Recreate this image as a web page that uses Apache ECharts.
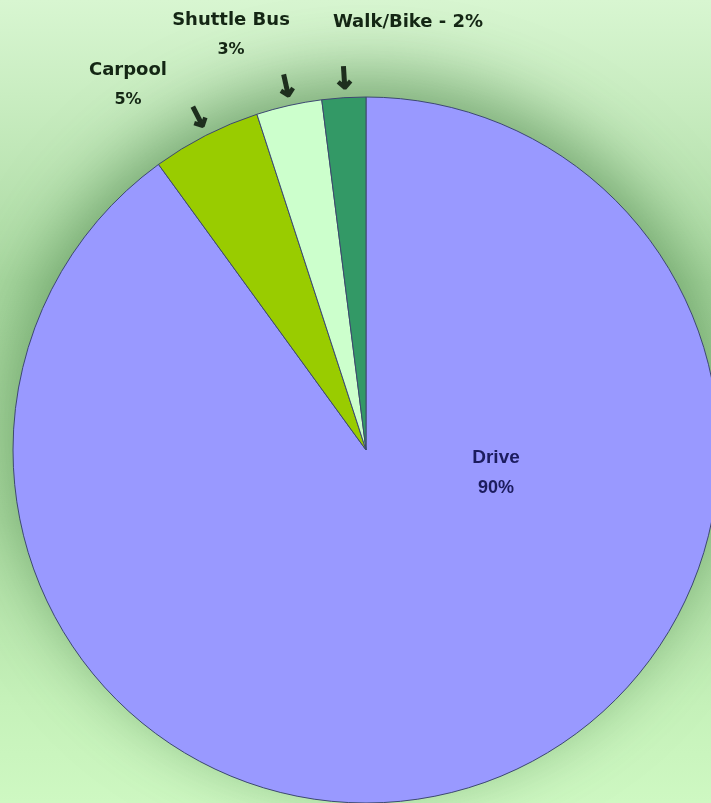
<!DOCTYPE html>
<html>
<head>
<meta charset="utf-8">
<script src="https://cdn.jsdelivr.net/npm/echarts@6/dist/echarts.min.js"></script>
<style>
  html, body { margin: 0; padding: 0; }
  #main { width: 711px; height: 803px; }
</style>
</head>
<body>
<div id="main"></div>
<script>
var chartDom = document.getElementById('main');
var myChart = echarts.init(chartDom);

// slices, clockwise from 12 o'clock
var categories = ['Drive', 'Carpool', 'Shuttle Bus', 'Walk/Bike'];
var shares = [90, 5, 3, 2];
var sliceColors = ['#9999ff', '#99cc00', '#ccffcc', '#339966'];

var CENTER = [366, 450];
var RADIUS = 353;

// where each slice's text sits (text only)
var labelSpots = [
  { x: 496, y: 473 },
  { x: 128, y: 85 },
  { x: 231, y: 35 },
  { x: 408, y: 22 }
];

var total = 0;
for (var i = 0; i < shares.length; i++) total += shares[i];

var pieData = categories.map(function (name, i) {
  return {
    name: name,
    value: shares[i],
    itemStyle: { color: sliceColors[i] }
  };
});

var arrowData = categories.map(function (name, i) {
  return {
    name: name,
    value: shares[i],
    label: { show: shares[i] < 10 }
  };
});

var option = {
  backgroundColor: {
    type: 'linear', x: 0, y: 0, x2: 0, y2: 1,
    colorStops: [
      { offset: 0, color: '#d8f6d1' },
      { offset: 0.12, color: '#c9edc1' },
      { offset: 0.35, color: '#abdaa2' },
      { offset: 0.65, color: '#aedda4' },
      { offset: 0.88, color: '#c6f2ba' },
      { offset: 1, color: '#cef8c2' }
    ]
  },
  series: [
    {
      // soft glow behind the pie
      type: 'pie',
      silent: true,
      z: 1,
      center: CENTER,
      radius: RADIUS,
      label: { show: false },
      labelLine: { show: false },
      itemStyle: {
        color: '#9999ff',
        shadowBlur: 70,
        shadowOffsetY: -20,
        shadowColor: 'rgba(50, 110, 50, 0.55)'
      },
      data: [{ name: 'all', value: total }]
    },
    {
      type: 'pie',
      z: 2,
      center: CENTER,
      radius: RADIUS,
      startAngle: 90,
      clockwise: true,
      animation: false,
      itemStyle: {
        borderColor: '#3d4a6e',
        borderWidth: 1
      },
      label: {
        show: true,
        position: 'outside',
        fontFamily: 'DejaVu Sans',
        fontWeight: 'bold',
        color: '#142614',
        formatter: function (p) {
          if (p.name === 'Walk/Bike') return '{n|' + p.name + ' - ' + p.value + '%}';
          return '{n|' + p.name + '}\n{p|' + p.value + '%}';
        },
        rich: {
          n: { fontFamily: 'DejaVu Sans', fontWeight: 'bold', fontSize: 18, color: '#142614', lineHeight: 30 },
          p: { fontFamily: 'DejaVu Sans', fontWeight: 'bold', fontSize: 16, color: '#142614', lineHeight: 30 }
        }
      },
      labelLine: { show: false },
      labelLayout: function (params) {
        var s = labelSpots[params.dataIndex];
        return { x: s.x, y: s.y, align: 'center', verticalAlign: 'middle' };
      },
      data: pieData.map(function (d, i) {
        if (i === 0) {
          d.label = {
            rich: {
              n: { fontFamily: 'Liberation Sans', fontWeight: 'bold', fontSize: 19, color: '#1c1c5e', lineHeight: 30 },
              p: { fontFamily: 'Liberation Sans', fontWeight: 'bold', fontSize: 18, color: '#1c1c5e', lineHeight: 30 }
            }
          };
        }
        return d;
      })
    },
    {
      // pointer arrows just outside the small slices
      type: 'pie',
      silent: true,
      z: 3,
      center: CENTER,
      radius: [RADIUS + 2, RADIUS + 32],
      startAngle: 90,
      clockwise: true,
      animation: false,
      itemStyle: { color: 'rgba(0,0,0,0)', borderWidth: 0 },
      label: {
        position: 'inside',
        rotate: 'radial',
        formatter: '\u2192',
        fontFamily: 'DejaVu Sans',
        fontWeight: 'bold',
        fontSize: 30,
        color: '#1e2e1e',
        textBorderColor: '#1e2e1e',
        textBorderWidth: 1.5
      },
      labelLine: { show: false },
      data: arrowData
    }
  ]
};

option && myChart.setOption(option);
</script>
</body>
</html>
